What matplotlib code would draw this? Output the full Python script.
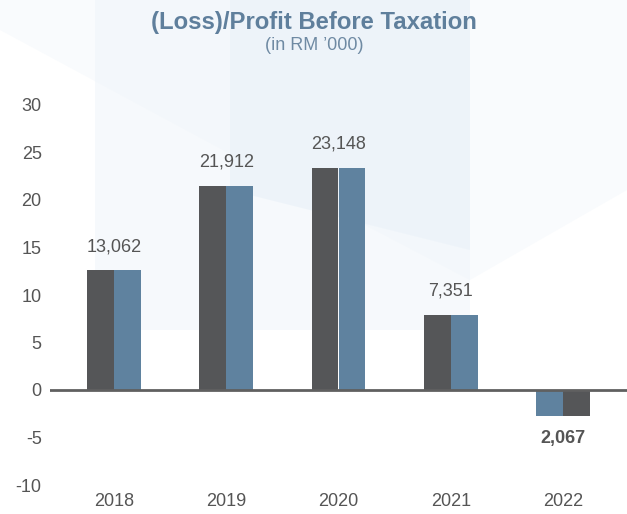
import matplotlib as mpl
mpl.use('Agg')
import matplotlib.pyplot as plt  # noqa
from matplotlib.patches import Polygon  # noqa

plt.rcParams['font.family'] = ['Liberation Sans', 'DejaVu Sans']
plt.rcParams['axes.unicode_minus'] = False

years = ['2018', '2019', '2020', '2021', '2022']
# bar heights as drawn on the axis (RM million)
heights = [12.6, 21.5, 23.4, 7.9, -2.7]
labels = ['13,062', '21,912', '23,148', '7,351', '2,067']

dark = '#555658'
blue = '#5f829f'
text_col = '#555555'

fig = plt.figure(figsize=(6.27, 5.14), dpi=100)

# faint watercolour background
bg = fig.add_axes([0, 0, 1, 1], zorder=-10)
bg.set_xlim(0, 627)
bg.set_ylim(514, 0)
bg.axis('off')
for pts, c, a in [
    ([(95, 0), (470, 0), (470, 330), (95, 330)], '#e6eff8', 0.35),
    ([(230, 0), (470, 0), (470, 250), (230, 190)], '#dde9f5', 0.35),
    ([(0, 30), (260, 170), (470, 280), (627, 190), (627, 0), (0, 0)], '#eef4fa', 0.35),
]:
    bg.add_patch(Polygon(pts, closed=True, fc=c, ec='none', alpha=a))

ax = fig.add_axes([50 / 627, 29 / 514, 577 / 627, 380 / 514])
ax.patch.set_alpha(0)

x = range(len(years))
w = 0.24
for i, h in zip(x, heights):
    if h >= 0:
        ax.bar(i - w / 2, h, w, color=dark, zorder=2)
        ax.bar(i + w / 2, h, w, color=blue, zorder=2)
        ax.text(i, h + 2.5, labels[i], ha='center', va='center',
                fontsize=13, color=text_col)
    else:
        ax.bar(i - w / 2, h, w, color=blue, zorder=2)
        ax.bar(i + w / 2, h, w, color=dark, zorder=2)
        ax.text(i, h - 2.4, labels[i], ha='center', va='center',
                fontsize=13, color=text_col, fontweight='bold')

ax.axhline(0, color='#606060', lw=2, zorder=3)
ax.set_xlim(-0.57, 4.57)
ax.set_ylim(-10, 30)
ax.set_yticks(range(-10, 31, 5))
ax.set_xticks(list(x))
ax.set_xticklabels(years)
ax.tick_params(length=0, labelsize=13, labelcolor=text_col)
ax.tick_params(axis='y', pad=6)
ax.tick_params(axis='x', pad=5.5)
for s in ax.spines.values():
    s.set_visible(False)

fig.text(0.501, 1 - 22 / 514, '(Loss)/Profit Before Taxation', ha='center',
         va='center', fontsize=17.2, fontweight='bold', color='#5f7f9c')
fig.text(0.501, 1 - 45 / 514, "(in RM \u2019000)", ha='center', va='center',
         fontsize=13, color='#6f8aa3')

fig.savefig('out.png', dpi=100)
